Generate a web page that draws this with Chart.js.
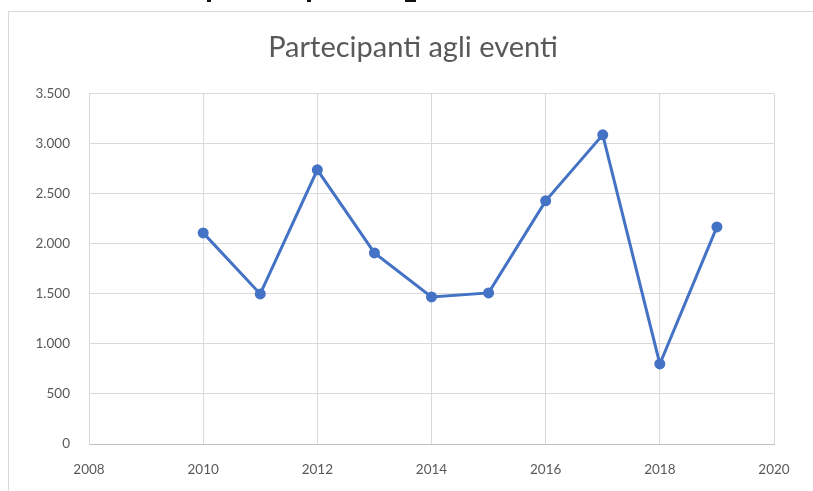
<!DOCTYPE html>
<html lang="it">
<head>
<meta charset="UTF-8">
<title>Partecipanti agli eventi</title>
<style>
  html, body { margin: 0; padding: 0; background: #fff; }
  body { width: 813px; height: 491px; overflow: hidden; position: relative; }
  .frame {
    position: absolute; left: 8px; top: 11px; width: 820px; height: 500px;
    border-top: 1px solid #d9d9d9; border-left: 1px solid #d9d9d9;
  }
  .cut { position: absolute; top: 0; height: 2px; background: #111; }
  /* a bit wider than the window so the title centres on the frame */
  .chart-box { position: absolute; left: 0; top: 0; width: 826px; height: 491px; }
</style>
</head>
<body>
  <!-- bits of the text above, cut off by the screenshot -->
  <div class="cut" style="left:207px;width:4px"></div>
  <div class="cut" style="left:307px;width:4px"></div>
  <div class="cut" style="left:405px;width:11px"></div>
  <div class="frame"></div>
  <div class="chart-box"><canvas id="chart"></canvas></div>

  <script src="https://cdn.jsdelivr.net/npm/chart.js"></script>
  <script>
    // dati
    const anni = [2010, 2011, 2012, 2013, 2014, 2015, 2016, 2017, 2018, 2019];
    const partecipanti = [2110, 1500, 2740, 1910, 1470, 1510, 2430, 3090, 800, 2170];
    const titolo = 'Partecipanti agli eventi';

    const testo = '#595959';
    const griglia = '#d9d9d9';
    const blu = '#4472c4';

    // 1000 -> "1.000"
    const formatta = v => String(v).replace(/\B(?=(\d{3})+(?!\d))/g, '.');

    const punti = anni.map((a, i) => ({ x: a, y: partecipanti[i] }));

    const ctx = document.getElementById('chart').getContext('2d');
    const chart = new Chart(ctx, {
      type: 'line',
      data: {
        datasets: [{
          label: titolo,
          data: punti,
          borderColor: blu,
          backgroundColor: blu,
          borderWidth: 3,
          pointRadius: 5.5,
          pointHoverRadius: 5.5,
          pointBorderWidth: 0,
          tension: 0
        }]
      },
      options: {
        responsive: true,
        maintainAspectRatio: false,
        animation: false,
        layout: { padding: 0 },
        plugins: {
          legend: { display: false },
          tooltip: { enabled: false },
          title: {
            display: true,
            text: titolo,
            color: testo,
            font: { family: 'Lato', size: 29, weight: 'normal', lineHeight: 1.2 },
            padding: { top: 30, bottom: 29 }
          }
        },
        scales: {
          x: {
            type: 'linear',
            min: 2008,
            max: 2020,
            afterFit: s => { s.height = 47; },
            grid: { color: griglia, lineWidth: 1, drawTicks: false },
            border: { color: '#bfbfbf', width: 1 },
            ticks: {
              stepSize: 2,
              padding: 18,
              color: testo,
              font: { family: 'Lato', size: 13.5 },
              callback: v => String(v)
            }
          },
          y: {
            min: 0,
            max: 3500,
            afterFit: s => { s.width = 89; },
            grid: { color: griglia, lineWidth: 1, drawTicks: false },
            border: { color: griglia, width: 1 },
            ticks: {
              stepSize: 500,
              padding: 19,
              color: testo,
              font: { family: 'Lato', size: 13.5 },
              callback: v => formatta(v)
            }
          },
          // empty axis on the right, only to leave the margin
          spazio: {
            type: 'linear',
            position: 'right',
            afterFit: s => { s.width = 52; },
            grid: { display: false },
            border: { display: false },
            ticks: { display: false }
          }
        }
      }
    });
  </script>
</body>
</html>
